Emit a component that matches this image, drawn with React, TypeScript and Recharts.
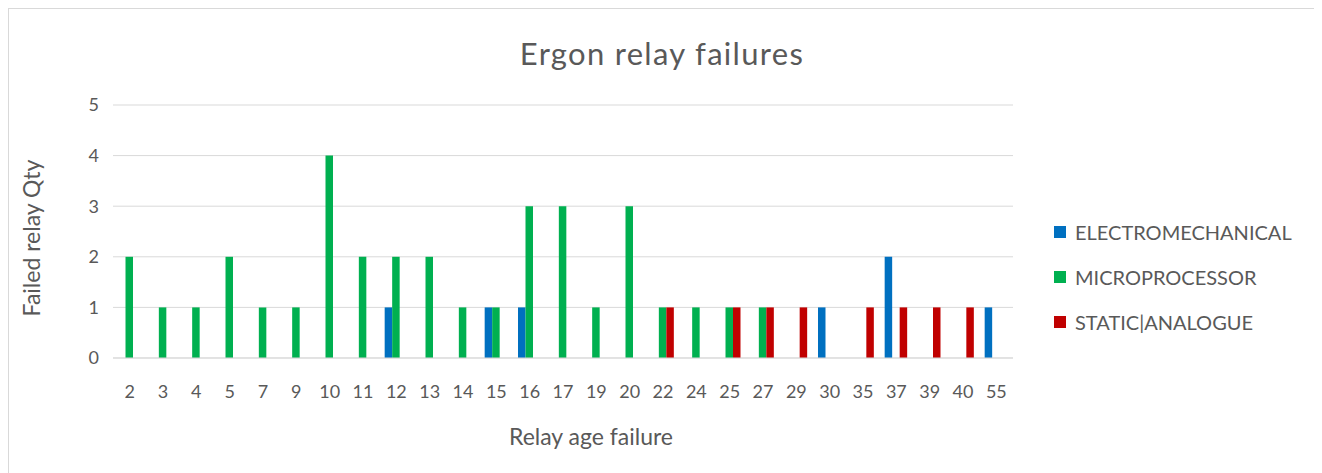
import { Bar, BarChart, CartesianGrid, XAxis, YAxis } from "recharts";

const ages = ["2", "3", "4", "5", "7", "9", "10", "11", "12", "13", "14", "15", "16", "17", "19", "20", "22", "24", "25", "27", "29", "30", "35", "37", "39", "40", "55"];
const electromechanical = [0, 0, 0, 0, 0, 0, 0, 0, 1, 0, 0, 1, 1, 0, 0, 0, 0, 0, 0, 0, 0, 1, 0, 2, 0, 0, 1];
const microprocessor = [2, 1, 1, 2, 1, 1, 4, 2, 2, 2, 1, 1, 3, 3, 1, 3, 1, 1, 1, 1, 0, 0, 0, 0, 0, 0, 0];
const staticAnalogue = [0, 0, 0, 0, 0, 0, 0, 0, 0, 0, 0, 0, 0, 0, 0, 0, 1, 0, 1, 1, 1, 0, 1, 1, 1, 1, 0];
const yTicks = [0, 1, 2, 3, 4, 5];

const series = [
  { key: "em", name: "ELECTROMECHANICAL", color: "#0070C0", values: electromechanical },
  { key: "mp", name: "MICROPROCESSOR", color: "#00B050", values: microprocessor },
  { key: "sa", name: "STATIC|ANALOGUE", color: "#C00000", values: staticAnalogue }
];

const data = ages.map((age, i) => {
  const row: Record<string, string | number> = { age };
  series.forEach((s) => (row[s.key] = s.values[i]));
  return row;
});

const FONT = "Lato, 'Open Sans', sans-serif";
const TEXT = "#595959";

export default function App() {
  return (
    <div
      style={{
        position: "relative",
        width: 1310,
        height: 480,
        border: "1px solid #d9d9d9",
        boxSizing: "border-box",
        fontFamily: FONT,
        background: "#fff"
      }}
    >
      <BarChart
        width={1308}
        height={462}
        data={data}
        margin={{ top: 96, right: 304, bottom: 83, left: 74 }}
        barSize={7.5}
        barGap={0}
      >
        <CartesianGrid vertical={false} stroke="#d9d9d9" />
        <XAxis
          dataKey="age"
          height={30}
          axisLine={{ stroke: "#d9d9d9" }}
          tickLine={false}
          tickSize={0}
          tickMargin={27}
          interval={0}
          tick={{ fill: TEXT, fontSize: 18, fontFamily: FONT }}
        />
        <YAxis
          width={30}
          domain={[0, 5]}
          ticks={yTicks}
          axisLine={false}
          tickLine={false}
          tickSize={0}
          tickMargin={14}
          tick={{ fill: TEXT, fontSize: 18, fontFamily: FONT }}
        />
        {series.map((s) => (
          <Bar key={s.key} dataKey={s.key} name={s.name} fill={s.color} isAnimationActive={false} />
        ))}
        <text x={653} y={56} textAnchor="middle" fill={TEXT} fontSize={31} letterSpacing={1.3} fontFamily={FONT}>
          Ergon relay failures
        </text>
        <text
          x={22}
          y={229}
          textAnchor="middle"
          dominantBaseline="central"
          transform="rotate(-90 22 229)"
          fill={TEXT}
          fontSize={23}
          fontFamily={FONT}
        >
          Failed relay Qty
        </text>
        <text x={582} y={436} textAnchor="middle" fill={TEXT} fontSize={23} fontFamily={FONT}>
          Relay age failure
        </text>
      </BarChart>
      <div style={{ position: "absolute", left: 1045, top: 200 }}>
        {series.map((s) => (
          <div key={s.key} style={{ display: "flex", alignItems: "center", height: 45, color: TEXT, fontSize: 20 }}>
            <span style={{ width: 12, height: 12, background: s.color, marginRight: 9 }} />
            {s.name}
          </div>
        ))}
      </div>
    </div>
  );
}
